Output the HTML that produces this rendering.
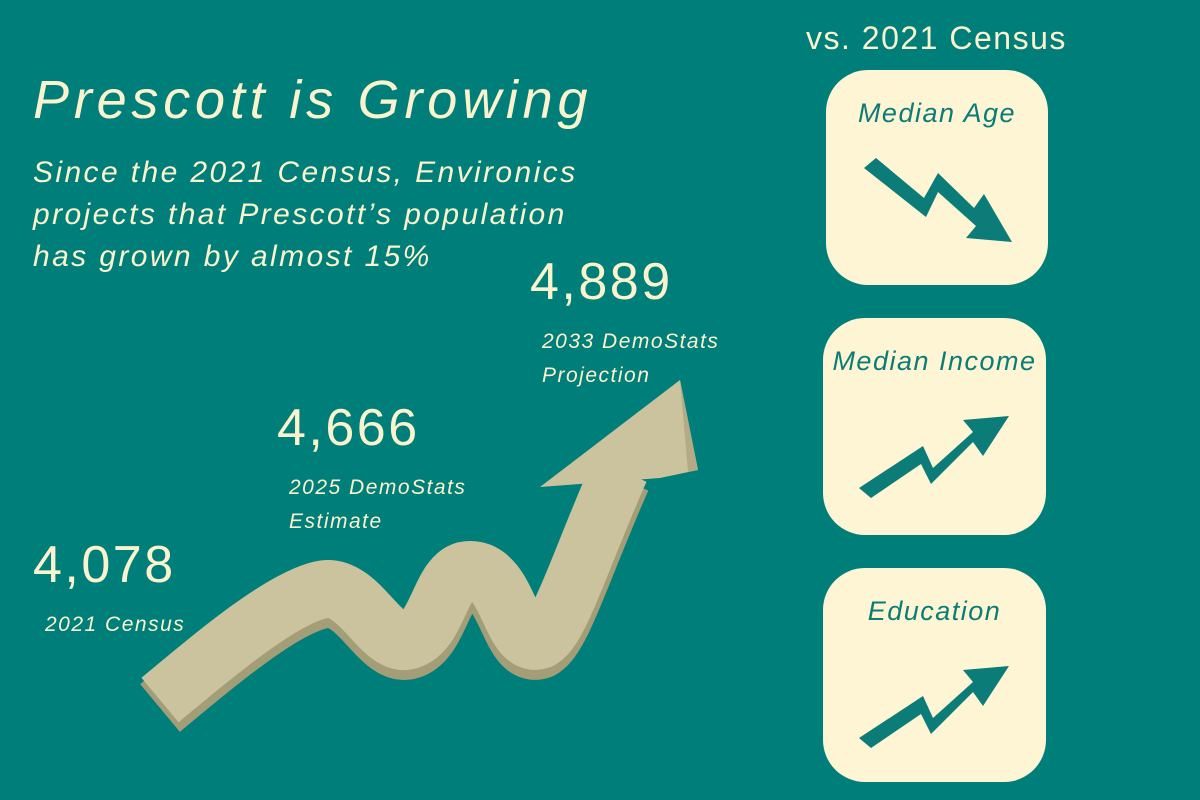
<!DOCTYPE html>
<html><head><meta charset="utf-8"><style>
body{margin:0;width:1200px;height:800px;background:#007e79;overflow:hidden;position:relative;font-family:"Liberation Sans",sans-serif;color:#fbf3cd}
.t{position:absolute;white-space:nowrap}
.box{position:absolute;background:#fdf5d4;border-radius:42px}
.box .lbl{position:absolute;left:0;right:0;text-align:center;top:28px;font-style:italic;font-size:27px;color:#0b7c77;letter-spacing:1.5px}
</style></head><body>
<div class="t" style="left:33px;top:69px;font-size:54px;font-style:italic;letter-spacing:4.8px">Prescott is Growing</div>
<div class="t" style="left:33px;top:152px;font-size:30px;font-style:italic;line-height:42px;letter-spacing:2.4px">Since the 2021 Census, Environics<br>projects that Prescott’s population<br>has grown by almost 15%</div>
<div class="t" style="left:806px;top:20px;font-size:32px;letter-spacing:1.5px">vs. 2021 Census</div>

<svg width="1200" height="800" style="position:absolute;left:0;top:0">
<path d="M160 700 C220 650 280 600 320 590 C360 580 380 650 410 640 C440 630 440 570 470 570 C510 570 510 650 540 640 C560 630 580 560 620 470" fill="none" stroke="#a39d78" stroke-width="62" stroke-linejoin="round" transform="translate(0,8)"/>
<path d="M160 700 C220 650 280 600 320 590 C360 580 380 650 410 640 C440 630 440 570 470 570 C510 570 510 650 540 640 C560 630 580 560 620 470" fill="none" stroke="#cbc39d" stroke-width="58" stroke-linejoin="round"/>
<polygon points="540,487 680,380 698,470 660,478" fill="#cbc39d"/>
<polygon points="680,380 698,470 688,472" fill="#b2ab86"/>
</svg>

<div id="vals"></div>

<div class="box" style="left:826px;top:70px;width:222px;height:215px"><div class="lbl">Median Age</div>
<svg width="222" height="215" style="position:absolute;left:0;top:0"><polygon points="38,98 50,88 98,128 112,103 148,138 158,124 186,172 140,168 150,156 112,122 100,147" fill="#0b7c77"/></svg></div>
<div class="box" style="left:823px;top:318px;width:223px;height:217px"><div class="lbl">Median Income</div>
<svg width="223" height="217" style="position:absolute;left:0;top:0"><polygon points="36,170 48,180 98,146 108,166 150,124 160,138 186,98 140,102 150,114 110,150 100,128" fill="#0b7c77"/></svg></div>
<div class="box" style="left:823px;top:568px;width:223px;height:214px"><div class="lbl">Education</div>
<svg width="223" height="214" style="position:absolute;left:0;top:0"><polygon points="36,170 48,180 98,146 108,166 150,124 160,138 186,98 140,102 150,114 110,150 100,128" fill="#0b7c77"/></svg></div>

<script>
const years=["2021 Census","2025 DemoStats<br>Estimate","2033 DemoStats<br>Projection"];
const pops=[4078,4666,4889];
const xs=[33,277,530],tops=[535,398,252];
const c=document.getElementById('vals');
pops.forEach((p,i)=>{
 const v=document.createElement('div');
 v.className='t';
 
 
 v.style.cssText=`left:${xs[i]}px;top:${tops[i]}px;font-size:52px;letter-spacing:2.5px`;
 v.textContent=p.toLocaleString('en-US');
 c.appendChild(v);
 const l=document.createElement('div');
 l.className='t';
 
 
 l.style.cssText=`left:${xs[i]+12}px;top:${tops[i]+73}px;font-size:21px;font-style:italic;line-height:34px;letter-spacing:1.5px`;
 l.innerHTML=years[i];
 c.appendChild(l);
});
</script>
</body></html>
